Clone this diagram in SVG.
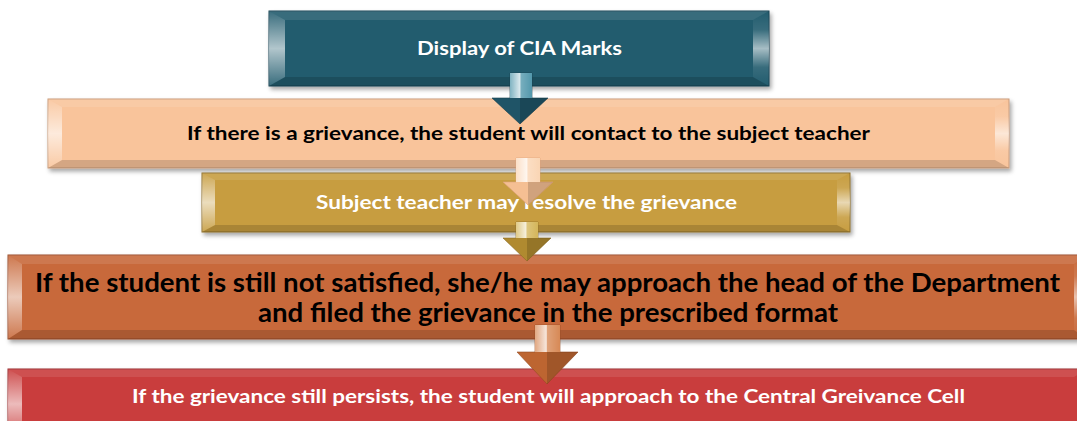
<svg xmlns="http://www.w3.org/2000/svg" width="1077" height="421" viewBox="0 0 1077 421">
<defs>
<filter id="sh" x="-5%" y="-20%" width="110%" height="150%">
<feDropShadow dx="2" dy="3" stdDeviation="2.2" flood-color="#000" flood-opacity="0.35"/>
</filter>
<linearGradient id="lg" x1="0" y1="0" x2="0" y2="1">
<stop offset="0" stop-color="#fff" stop-opacity="0.1"/>
<stop offset="0.5" stop-color="#fff" stop-opacity="0.65"/>
<stop offset="1" stop-color="#fff" stop-opacity="0.1"/>
</linearGradient>
<linearGradient id="rg" x1="0" y1="0" x2="0" y2="1">
<stop offset="0" stop-color="#fff" stop-opacity="0"/>
<stop offset="0.25" stop-color="#fff" stop-opacity="0.1"/>
<stop offset="0.5" stop-color="#fff" stop-opacity="0.6"/>
<stop offset="0.75" stop-color="#fff" stop-opacity="0.1"/>
<stop offset="1" stop-color="#fff" stop-opacity="0"/>
</linearGradient>
<linearGradient id="sg" x1="0" y1="0" x2="1" y2="0">
<stop offset="0" stop-color="#fff" stop-opacity="0.3"/>
<stop offset="0.45" stop-color="#fff" stop-opacity="0.8"/>
<stop offset="0.5" stop-color="#fff" stop-opacity="0.25"/>
<stop offset="1" stop-color="#fff" stop-opacity="0.05"/>
</linearGradient>
<style>
.t{font-family:Lato,"Liberation Sans",Arial,sans-serif;font-weight:bold;text-anchor:middle}
.w{fill:#fff}
.k{fill:#000}
.top{fill:#fff;fill-opacity:0.1}
.bot{fill:#000;fill-opacity:0.15}
.lb{fill:url(#lg)}
.rb{fill:url(#rg)}
.sh{fill:url(#sg)}
.hd{fill:#000;fill-opacity:0.15}
</style>
</defs>

<g id="box1">
<rect x="269" y="11" width="500" height="75" fill="#245b6e" stroke="#1a4452" filter="url(#sh)"/>
<polygon class="top" points="269,11 769,11 753,20 285,20"/>
<polygon class="bot" points="269,86 769,86 753,77 285,77"/>
<polygon class="lb" points="269,11 285,20 285,77 269,86"/>
<polygon class="rb" points="769,11 753,20 753,77 769,86"/>
<text class="t w" x="519.5" y="55" font-size="19" textLength="205" lengthAdjust="spacingAndGlyphs">Display of CIA Marks</text>
</g>

<g id="box2">
<rect x="48" y="99" width="961" height="69" fill="#f9c49b" stroke="#c99a78" filter="url(#sh)"/>
<polygon class="top" points="48,99 1009,99 995,107 62,107"/>
<polygon class="bot" points="48,168 1009,168 995,160 62,160"/>
<polygon class="lb" points="48,99 62,107 62,160 48,168"/>
<polygon class="rb" points="1009,99 995,107 995,160 1009,168"/>
<text class="t k" x="528.5" y="140" font-size="19.5" textLength="683" lengthAdjust="spacingAndGlyphs">If there is a grievance, the student will contact to the subject teacher</text>
</g>

<g id="box3">
<rect x="202" y="173" width="648" height="59" fill="#c79d3f" stroke="#8d6e2a" filter="url(#sh)"/>
<polygon class="top" points="202,173 850,173 837,180 215,180"/>
<polygon class="bot" points="202,232 850,232 837,225 215,225"/>
<polygon class="lb" points="202,173 215,180 215,225 202,232"/>
<polygon class="rb" points="850,173 837,180 837,225 850,232"/>
<text class="t w" x="526.5" y="209" font-size="19.5" textLength="421" lengthAdjust="spacingAndGlyphs">Subject teacher may resolve the grievance</text>
</g>

<g id="box4">
<rect x="8" y="255" width="1080" height="84" fill="#c8693b" stroke="#9a4d28" filter="url(#sh)"/>
<polygon class="top" points="8,255 1088,255 1074,264 22,264"/>
<polygon class="bot" points="8,339 1088,339 1074,330 22,330"/>
<polygon class="lb" points="8,255 22,264 22,330 8,339"/>
<polygon class="rb" points="1088,255 1074,264 1074,330 1088,339"/>
<text class="t k" x="547.5" y="292" font-size="26" textLength="1025" lengthAdjust="spacingAndGlyphs">If the student is still not satisfied, she/he may approach the head of the Department</text>
<text class="t k" x="548" y="322" font-size="26" textLength="580" lengthAdjust="spacingAndGlyphs">and filed the grievance in the prescribed format</text>
</g>

<g id="box5">
<rect x="8" y="369" width="1080" height="70" fill="#c93c3e" stroke="#9a2a2c" filter="url(#sh)"/>
<polygon class="top" points="8,369 1088,369 1074,377 22,377"/>
<polygon class="lb" points="8,369 22,377 22,430 8,439"/>
<text class="t w" x="548.5" y="403" font-size="19.5" textLength="833" lengthAdjust="spacingAndGlyphs">If the grievance still persists, the student will approach to the Central Greivance Cell</text>
</g>

<g id="connectors">
<g id="a1">
<polygon points="510,73 532,73 532,98 548,98 520,124 492,98 510,98" fill="#1f5467" stroke="#173f4d" stroke-width="0.6"/>
<rect x="510" y="73" width="22" height="25" fill="#4a93a8"/>
<rect class="sh" x="510" y="73" width="22" height="25"/>
<polygon class="hd" points="520,98 548,98 520,124"/>
</g>
<g id="a2">
<polygon points="516,158 540,158 540,182 553,182 528,205 503,182 516,182" fill="#f5bf93" stroke="#dba179" stroke-width="0.6"/>
<rect x="516" y="158" width="24" height="24" fill="#fad3b0"/>
<rect class="sh" x="516" y="158" width="24" height="24"/>
<polygon class="hd" points="528,182 553,182 528,205" fill-opacity="0.05"/>
</g>
<g id="a3">
<polygon points="516,222 538,222 538,238 551,238 527,261 503,238 516,238" fill="#b08a30" stroke="#8a6a22" stroke-width="0.6"/>
<rect x="516" y="222" width="22" height="16" fill="#d2b252"/>
<rect class="sh" x="516" y="222" width="22" height="16"/>
<polygon class="hd" points="527,238 551,238 527,261"/>
</g>
<g id="a4">
<polygon points="535,325 560,325 560,352 578,352 547,384 517,352 535,352" fill="#bd6531" stroke="#954c22" stroke-width="0.6"/>
<rect x="535" y="325" width="25" height="27" fill="#d5834d"/>
<rect class="sh" x="535" y="325" width="25" height="27"/>
<polygon class="hd" points="547,352 578,352 547,384"/>
</g>
</g>
</svg>
